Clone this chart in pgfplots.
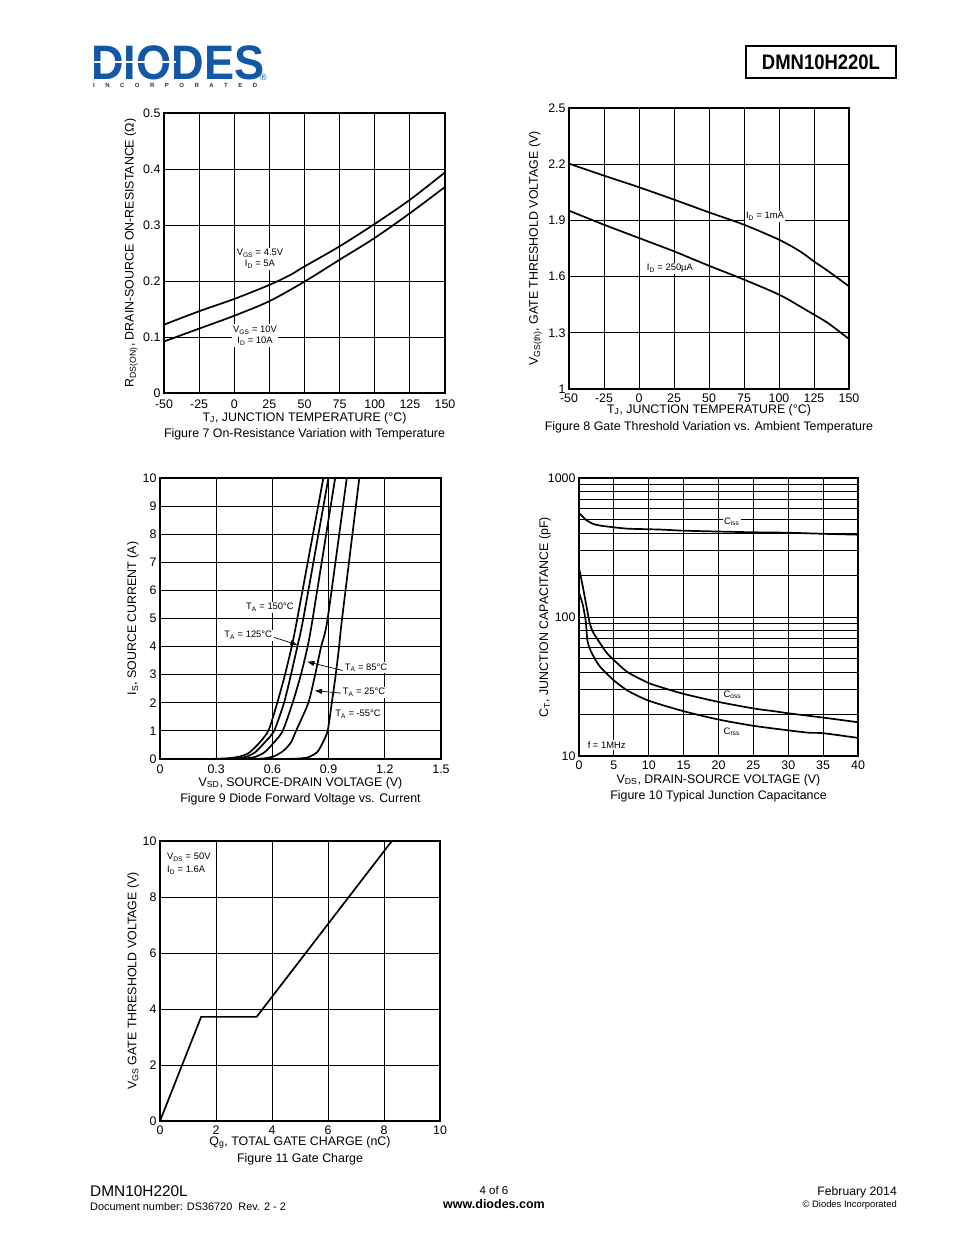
\documentclass[border=0pt]{standalone}
\usepackage{fontspec}
\setmainfont{Liberation Sans}
\usepackage{pgfplots}
\pgfplotsset{compat=1.18}
\usetikzlibrary{arrows.meta}
\definecolor{diodesblue}{RGB}{18,88,164}

% page is drawn at 1px = 1bp
\newcommand\tk{\fontsize{12.4bp}{14bp}\selectfont}
\newcommand\an{\fontsize{9.4bp}{11bp}\selectfont}
\newcommand\figcap[2]{\node[font=\tk, anchor=base, yshift=-#1] at (axis description cs:0.5,0) {#2};}

\tikzset{lbl/.style={font=\an, fill=white, inner sep=1.5bp, align=center}}
\pgfplotsset{
  sheet/.style={
    scale only axis, anchor=south west, clip=false,
    axis line style={line width=1.1bp},
    grid=major,
    major grid style={line width=0.9bp, black},
    minor grid style={line width=0.9bp, black},
    tick style={draw=none},
    tick label style={font=\tk},
    label style={font=\tk},
    /pgf/number format/assume math mode=true,
    every axis plot/.append style={line width=1.7bp, black, mark=none},
    ylabel style={anchor=center},
  },
  xtl/.style={xticklabel style={anchor=base, yshift=-#1}},
  xl/.style={xlabel style={at={(axis description cs:0.5,0)}, anchor=base, yshift=-#1}},
  yl/.style={ylabel style={at={(axis description cs:-#1,0.5)}}},
}

\begin{document}
\begin{tikzpicture}[x=1bp, y=-1bp]
\fill[white] (0,0) rectangle (954,1235);

% header
\node[anchor=north west, inner sep=0, text=diodesblue] at (91,45)
  {\fontsize{47bp}{47bp}\bfseries\scalebox{0.96}[1.03]{DIODES}};
\fill[white] (92,60.8) rectangle (176,63.3);
\node[anchor=base west, inner sep=0, text=black!80] at (93,87)
  {\fontsize{6bp}{6bp}\bfseries\makebox[164bp][s]{I\hfill N\hfill C\hfill O\hfill R\hfill P\hfill O\hfill R\hfill A\hfill T\hfill E\hfill D}};
\node[anchor=base west, inner sep=0, text=diodesblue] at (260,80) {\fontsize{9bp}{9bp}\selectfont ®};
\draw[line width=1.3bp] (746,46) rectangle (896,78);
\node at (821,62) {\fontsize{21bp}{22bp}\bfseries\scalebox{0.88}[1]{DMN10H220L}};

% Figure 7
\begin{axis}[sheet, at={(164bp,-393bp)}, width=281bp, height=280bp,
  xmin=-50, xmax=150, ymin=0, ymax=0.5,
  xtick={-50,-25,...,150}, ytick={0,0.1,0.2,0.3,0.4,0.5},
  yticklabels={0,0.1,0.2,0.3,0.4,0.5},
  xtl=15.5bp, xl=28bp, yl=0.117,
  xlabel={T\textsubscript{J}, JUNCTION TEMPERATURE (°C)},
  ylabel={R\textsubscript{DS(ON)}, DRAIN-SOURCE ON-RESISTANCE (Ω)}]
\addplot[smooth] coordinates {(-50,0.122) (-25,0.146) (0,0.168) (25,0.193) (40,0.211) (50,0.226) (75,0.262) (100,0.302) (125,0.345) (150,0.394)};
\addplot[smooth] coordinates {(-50,0.092) (-25,0.115) (0,0.138) (25,0.164) (50,0.199) (75,0.238) (100,0.277) (125,0.321) (150,0.368)};
\node[lbl] at (axis cs:18.3,0.2396) {V\textsubscript{GS} = 4.5V\\I\textsubscript{D} = 5A};
\node[lbl] at (axis cs:14.8,0.1027) {V\textsubscript{GS} = 10V\\I\textsubscript{D} = 10A};
\figcap{44bp}{Figure 7 On-Resistance Variation with Temperature}
\end{axis}

% Figure 8
\begin{axis}[sheet, at={(569bp,-389bp)}, width=280bp, height=281bp,
  xmin=-50, xmax=150, ymin=1, ymax=2.5,
  xtick={-50,-25,...,150}, ytick={1,1.3,1.6,1.9,2.2,2.5},
  yticklabels={1,1.3,1.6,1.9,2.2,2.5},
  xtl=13.5bp, xl=24bp, yl=0.12,
  xlabel={T\textsubscript{J}, JUNCTION TEMPERATURE (°C)},
  ylabel={V\textsubscript{GS(th)}, GATE THRESHOLD VOLTAGE (V)}]
\addplot[smooth] coordinates {(-50,2.203) (-25,2.139) (0,2.077) (25,2.011) (50,1.943) (75,1.877) (100,1.797) (115,1.735) (125,1.681) (135,1.63) (150,1.548)};
\addplot[smooth] coordinates {(-50,1.952) (-25,1.877) (0,1.806) (25,1.735) (50,1.658) (75,1.584) (100,1.504) (115,1.441) (125,1.397) (135,1.352) (150,1.267)};
\node[lbl] at (axis cs:90,1.923) {I\textsubscript{D} = 1mA};
\node[lbl] at (axis cs:22.1,1.644) {I\textsubscript{D} = 250µA};
\figcap{41bp}{Figure 8 Gate Threshold Variation vs. Ambient Temperature}
\end{axis}

% Figure 9
\begin{axis}[sheet, at={(160bp,-759bp)}, width=281bp, height=281bp,
  xmin=0, xmax=1.5, ymin=0, ymax=10,
  xtick={0,0.3,0.6,0.9,1.2,1.5}, xticklabels={0,0.3,0.6,0.9,1.2,1.5},
  ytick={0,1,...,10},
  xtl=14bp, xl=27bp, yl=0.096,
  xlabel={V\textsubscript{SD}, SOURCE-DRAIN VOLTAGE (V)},
  ylabel={I\textsubscript{S}, SOURCE CURRENT (A)}]
\addplot[smooth, tension=0.4] coordinates {(0.25,0) (0.35,0.02) (0.42,0.08) (0.47,0.2) (0.52,0.5) (0.578,1) (0.626,2) (0.667,3) (0.703,4) (0.733,5) (0.872,10)};
\addplot[smooth, tension=0.4] coordinates {(0.27,0) (0.4,0.02) (0.46,0.08) (0.51,0.25) (0.56,0.6) (0.609,1) (0.662,2) (0.699,3) (0.733,4) (0.765,5) (0.899,10)};
\addplot[smooth, tension=0.4] coordinates {(0.32,0) (0.45,0.02) (0.51,0.08) (0.56,0.25) (0.61,0.6) (0.655,1) (0.708,2) (0.752,3) (0.788,4) (0.815,5) (0.935,10)};
\addplot[smooth, tension=0.4] coordinates {(0.42,0) (0.55,0.02) (0.61,0.1) (0.66,0.3) (0.70,0.6) (0.726,1) (0.792,2) (0.828,3) (0.86,4) (0.895,5) (0.997,10)};
\addplot[smooth, tension=0.4] coordinates {(0.6,0) (0.72,0.01) (0.79,0.06) (0.84,0.25) (0.87,0.6) (0.895,1) (0.917,2) (0.938,3) (0.956,4) (0.972,5) (1.064,10)};
\draw[line width=0.7bp, -{Triangle[length=7bp,width=5bp]}] (axis cs:0.604,4.34) -- (axis cs:0.733,4.06);
\draw[line width=0.7bp, -{Triangle[length=7bp,width=5bp]}] (axis cs:0.975,3.15) -- (axis cs:0.787,3.46);
\draw[line width=0.7bp, -{Triangle[length=7bp,width=5bp]}] (axis cs:0.975,2.34) -- (axis cs:0.828,2.43);
\node[lbl] at (axis cs:0.587,5.40) {T\textsubscript{A} = 150°C};
\node[lbl] at (axis cs:0.471,4.41) {T\textsubscript{A} = 125°C};
\node[lbl] at (axis cs:1.100,3.24) {T\textsubscript{A} = 85°C};
\node[lbl] at (axis cs:1.089,2.38) {T\textsubscript{A} = 25°C};
\node[lbl] at (axis cs:1.057,1.60) {T\textsubscript{A} = -55°C};
\figcap{43bp}{Figure 9 Diode Forward Voltage vs. Current}
\end{axis}

% Figure 10
\begin{axis}[sheet, at={(579bp,-756bp)}, width=279bp, height=278bp,
  ymode=log, xmin=0, xmax=40, ymin=10, ymax=1000,
  xtick={0,5,...,40}, ytick={10,100,1000}, yticklabels={10,100,1000},
  minor ytick={20,30,40,50,60,70,80,90,200,300,400,500,600,700,800,900},
  grid=both,
  xtl=13bp, xl=27bp, yl=0.122,
  xlabel={V\textsubscript{DS}, DRAIN-SOURCE VOLTAGE (V)},
  ylabel={C\textsubscript{T}, JUNCTION CAPACITANCE (pF)}]
\addplot[smooth, tension=0.4] coordinates {(0,560) (0.5,530) (1,500) (2,468) (3,455) (5,442) (7,432) (10,428) (12,425) (15,418) (20,412) (25,407) (30,404) (35,397) (40,391)};
\addplot[smooth, tension=0.4] coordinates {(0,225) (0.5,170) (1,125) (1.5,92) (2,78) (3,65) (4,55) (5,49) (7,40) (10,33.5) (12,31) (15,28) (20,24.5) (25,22) (28,21) (30,20.3) (35,18.9) (40,17.5)};
\addplot[smooth, tension=0.4] coordinates {(0,150) (0.5,125) (0.8,105) (1,90) (1.2,68) (1.5,60) (2,53) (3,44) (5,35) (7,29.5) (10,25) (15,21) (20,18.3) (25,16.5) (30,15.3) (33,14.7) (35,14.6) (40,13.5)};
\node[lbl] at (axis cs:21.9,485) {C\textsubscript{iss}};
\node[lbl] at (axis cs:22.0,27.5) {C\textsubscript{oss}};
\node[lbl] at (axis cs:21.9,15.0) {C\textsubscript{rss}};
\node[lbl] at (axis cs:3.97,12.0) {f = 1MHz};
\figcap{43bp}{Figure 10 Typical Junction Capacitance}
\end{axis}

% Figure 11
\begin{axis}[sheet, at={(160bp,-1121bp)}, width=280bp, height=280bp,
  xmin=0, xmax=10, ymin=0, ymax=10,
  xtick={0,2,...,10}, ytick={0,2,...,10},
  xtl=13bp, xl=24bp, yl=0.096,
  xlabel={Q\textsubscript{g}, TOTAL GATE CHARGE (nC)},
  ylabel={V\textsubscript{GS} GATE THRESHOLD VOLTAGE (V)}]
\addplot[sharp plot] coordinates {(0,0) (1.47,3.72) (3.45,3.72) (8.28,10)};
\node[font=\an, anchor=base west, inner sep=0, align=left] at (axis cs:0.25,9.33) {V\textsubscript{DS} = 50V};
\node[font=\an, anchor=base west, inner sep=0, align=left] at (axis cs:0.25,8.87) {I\textsubscript{D} = 1.6A};
\figcap{41bp}{Figure 11 Gate Charge}
\end{axis}

% footer
\node[anchor=base west, inner sep=0] at (90,1196) {\fontsize{15.4bp}{16bp}\selectfont DMN10H220L};
\node[anchor=base west, inner sep=0] at (90,1210) {\fontsize{10.9bp}{12bp}\selectfont Document number: DS36720\ \ Rev. 2 - 2};
\node[anchor=base, inner sep=0] at (494,1194) {\fontsize{11.5bp}{12bp}\selectfont 4 of 6};
\node[anchor=base, inner sep=0] at (494,1208) {\fontsize{12.5bp}{13bp}\bfseries www.diodes.com};
\node[anchor=base east, inner sep=0] at (897,1195) {\fontsize{12.2bp}{13bp}\selectfont February 2014};
\node[anchor=base east, inner sep=0] at (897,1207) {\fontsize{9.4bp}{10bp}\selectfont © Diodes Incorporated};
\end{tikzpicture}
\end{document}
